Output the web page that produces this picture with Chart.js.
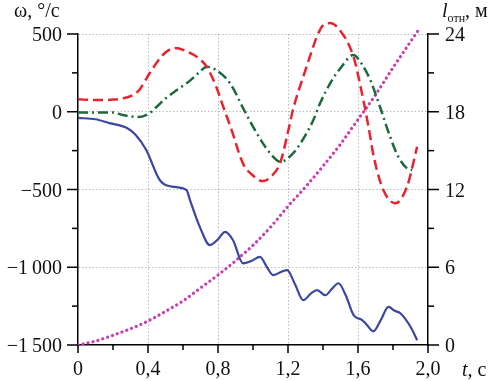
<!DOCTYPE html>
<html>
<head>
<meta charset="utf-8">
<script src="https://cdn.jsdelivr.net/npm/chart.js@4/dist/chart.umd.min.js"></script>
<style>
    html, body { margin: 0; padding: 0; background: #fff; }
    #wrap { position: relative; width: 493px; height: 381px; }
    #labels { position: absolute; left: 0; top: 0; width: 493px; height: 381px; pointer-events: none;
              font-family: "Liberation Serif", "Times New Roman", serif; font-size: 20px; line-height: 20px; color: #111; }
    #labels span { position: absolute; white-space: nowrap; }
    #labels sub { font-size: 12px; line-height: 12px; vertical-align: -5px; }
</style>
</head>
<body>
<div id="wrap">
    <canvas id="chart"></canvas>
    <div id="labels"></div>
</div>
<script>
// time, s / angular speed, deg/s
var tRed = [0, 0.1, 0.2, 0.25, 0.3, 0.35, 0.41, 0.485, 0.553, 0.64, 0.7, 0.735, 0.79, 0.83, 0.878, 0.943, 1.0, 1.057, 1.1, 1.155, 1.2, 1.23, 1.287, 1.33, 1.365, 1.4, 1.44, 1.5, 1.575, 1.613, 1.66, 1.69, 1.745, 1.814, 1.88, 1.938];
var wRed = [80, 75, 78, 85, 100, 140, 249, 365, 410, 378, 335, 290, 161, 32, -118, -333, -410, -446, -420, -330, -130, 20, 225, 370, 483, 555, 570, 520, 352, 170, -96, -289, -504, -588, -482, -225];

var tGreen = [0, 0.1, 0.2, 0.255, 0.3, 0.35, 0.41, 0.45, 0.5, 0.565, 0.64, 0.696, 0.735, 0.79, 0.868, 0.954, 1.0, 1.057, 1.1, 1.155, 1.23, 1.3, 1.345, 1.384, 1.45, 1.5, 1.573, 1.62, 1.67, 1.728, 1.78, 1.83, 1.88, 1.91];
var wGreen = [-5, -5, -5, -21, -30, -33, -8, 32, 85, 140, 200, 257, 290, 268, 184, 0, -96, -203, -270, -322, -266, -150, -53, 56, 200, 280, 365, 310, 204, 24, -150, -289, -364, -375];

var tBlue = [0, 0.1, 0.18, 0.28, 0.33, 0.39, 0.467, 0.54, 0.62, 0.64, 0.696, 0.754, 0.8, 0.84, 0.886, 0.943, 0.99, 1.04, 1.08, 1.115, 1.16, 1.195, 1.24, 1.287, 1.33, 1.366, 1.413, 1.45, 1.488, 1.53, 1.575, 1.624, 1.65, 1.687, 1.73, 1.774, 1.81, 1.842, 1.9, 1.938];
var wBlue = [-40, -48, -73, -105, -150, -246, -439, -482, -504, -568, -740, -858, -820, -772, -826, -975, -960, -933, -1000, -1051, -1030, -1018, -1110, -1212, -1170, -1147, -1180, -1140, -1103, -1180, -1308, -1340, -1370, -1412, -1340, -1255, -1280, -1296, -1383, -1469];

// relative distance, m (right axis)
var tDist = [0, 0.1, 0.2, 0.3, 0.4, 0.5, 0.6, 0.7, 0.8, 0.9, 1.0, 1.1, 1.2, 1.3, 1.4, 1.5, 1.6, 1.7, 1.8, 1.9, 1.94];
var lDist = [0, 0.3, 0.75, 1.25, 1.85, 2.6, 3.4, 4.4, 5.4, 6.5, 7.7, 9.1, 10.7, 12.2, 13.8, 15.5, 17.4, 19.3, 21.4, 23.4, 24.2];

var GRID = 'rgba(165,165,165,0.75)';

function toPoints(xs, ys) {
    var pts = [];
    for (var i = 0; i < xs.length; i++) {
        pts.push({x: xs[i], y: ys[i]});
    }
    return pts;
}

function fmtOmega(v) {
    var s = String(Math.abs(v));
    if (s.length > 3) s = s.slice(0, s.length - 3) + '\u2009' + s.slice(-3);
    return (v < 0 ? '\u2212' : '') + s;
}

function fmtTime(v) {
    return v === 0 ? '0' : v.toFixed(1).replace('.', ',');
}

function drawTicks(ctx, scale, step, majorEvery, side) {
    var n = Math.round((scale.max - scale.min) / step);
    for (var i = 0; i <= n; i++) {
        var v = scale.min + i * step;
        var len = (i % majorEvery === 0) ? 11 : 6;
        var p = scale.getPixelForValue(v);
        ctx.beginPath();
        if (side === 'left') {
            ctx.moveTo(scale.right, p); ctx.lineTo(scale.right - len, p);
        } else if (side === 'right') {
            ctx.moveTo(scale.left, p); ctx.lineTo(scale.left + len, p);
        } else {
            len = (i % majorEvery === 0) ? 8 : 5;
            ctx.moveTo(p, scale.top); ctx.lineTo(p, scale.top + len);
        }
        ctx.stroke();
    }
}

function addLabel(box, html, css) {
    var el = document.createElement('span');
    el.innerHTML = html;
    for (var k in css) el.style[k] = css[k];
    box.appendChild(el);
    return el;
}

// tick labels and axis titles as html text placed from the chart scales
function buildLabels(chart) {
    var box = document.getElementById('labels');
    box.innerHTML = '';
    var x = chart.scales.x, y = chart.scales.y, y2 = chart.scales.y2;

    y.ticks.forEach(function (t) {
        addLabel(box, fmtOmega(t.value), {right: (493 - (y.right - 16)) + 'px', top: (y.getPixelForValue(t.value) - 10) + 'px'});
    });
    y2.ticks.forEach(function (t) {
        addLabel(box, String(t.value), {left: (y2.left + 17) + 'px', top: (y2.getPixelForValue(t.value) - 10) + 'px'});
    });
    x.ticks.forEach(function (t) {
        var el = addLabel(box, fmtTime(t.value), {left: '0px', top: (x.top + 13) + 'px'});
        el.style.left = (x.getPixelForValue(t.value) - el.offsetWidth / 2) + 'px';
    });

    addLabel(box, '\u03c9, \u00b0/\u0441', {left: '14px', top: '0px'});
    addLabel(box, '<i>l</i><sub>\u043e\u0442\u043d</sub>, \u043c', {left: '442px', top: '0px'});
    addLabel(box, '<i>t</i>, \u0441', {left: '462px', top: '359px'});
}

var axisExtras = {
    id: 'axisExtras',
    afterDraw: function (chart) {
        var ctx = chart.ctx;
        ctx.save();
        ctx.strokeStyle = '#000';
        ctx.lineWidth = 1.5;
        drawTicks(ctx, chart.scales.y, 250, 2, 'left');
        drawTicks(ctx, chart.scales.y2, 3, 2, 'right');
        drawTicks(ctx, chart.scales.x, 0.2, 2, 'bottom');
        ctx.restore();
        buildLabels(chart);
    }
};

new Chart(document.getElementById('chart').getContext('2d'), {
    type: 'line',
    data: {
        datasets: [
            {
                data: toPoints(tRed, wRed),
                yAxisID: 'y',
                borderColor: '#e8222e',
                borderWidth: 2.5,
                borderDash: [10, 5],
                cubicInterpolationMode: 'monotone',
                pointRadius: 0,
                clip: false,
                fill: false
            },
            {
                data: toPoints(tGreen, wGreen),
                yAxisID: 'y',
                borderColor: '#1c6a3c',
                borderWidth: 2.5,
                borderDash: [10, 4, 2, 4],
                cubicInterpolationMode: 'monotone',
                pointRadius: 0,
                clip: false,
                fill: false
            },
            {
                data: toPoints(tBlue, wBlue),
                yAxisID: 'y',
                borderColor: '#3b46a3',
                borderWidth: 2.2,
                cubicInterpolationMode: 'monotone',
                pointRadius: 0,
                clip: false,
                fill: false
            },
            {
                data: toPoints(tDist, lDist),
                yAxisID: 'y2',
                borderColor: '#c93fae',
                borderWidth: 3.2,
                borderDash: [0.1, 5],
                borderCapStyle: 'round',
                cubicInterpolationMode: 'monotone',
                pointRadius: 0,
                clip: false,
                fill: false
            }
        ]
    },
    options: {
        responsive: true,
        maintainAspectRatio: false,
        animation: false,
        layout: {padding: {top: 34, left: 0, right: 0, bottom: 0}},
        plugins: {legend: {display: false}, tooltip: {enabled: false}},
        scales: {
            x: {
                type: 'linear',
                min: 0,
                max: 2,
                afterFit: function (s) { s.height = 36; },
                ticks: {display: false, stepSize: 0.4},
                grid: {
                    drawTicks: false,
                    lineWidth: 1,
                    color: function (c) {
                        var v = c.tick ? c.tick.value : 0;
                        return (v > 0.01 && v < 1.99) ? GRID : 'rgba(0,0,0,0)';
                    }
                },
                border: {display: true, color: '#000', width: 1.5, dash: [1.5, 2]}
            },
            y: {
                position: 'left',
                min: -1500,
                max: 500,
                afterFit: function (s) { s.width = 78; },
                ticks: {display: false, stepSize: 500},
                grid: {
                    drawTicks: false,
                    lineWidth: 1,
                    color: function (c) {
                        var v = c.tick ? c.tick.value : 0;
                        return v > -1499 ? GRID : 'rgba(0,0,0,0)';
                    }
                },
                border: {display: true, color: '#000', width: 1.5, dash: [1.5, 2]}
            },
            y2: {
                position: 'right',
                min: 0,
                max: 24,
                afterFit: function (s) { s.width = 65; },
                ticks: {display: false, stepSize: 6},
                grid: {display: false, drawTicks: false},
                border: {display: true, color: '#000', width: 1.5}
            }
        }
    },
    plugins: [axisExtras]
});
</script>
</body>
</html>
